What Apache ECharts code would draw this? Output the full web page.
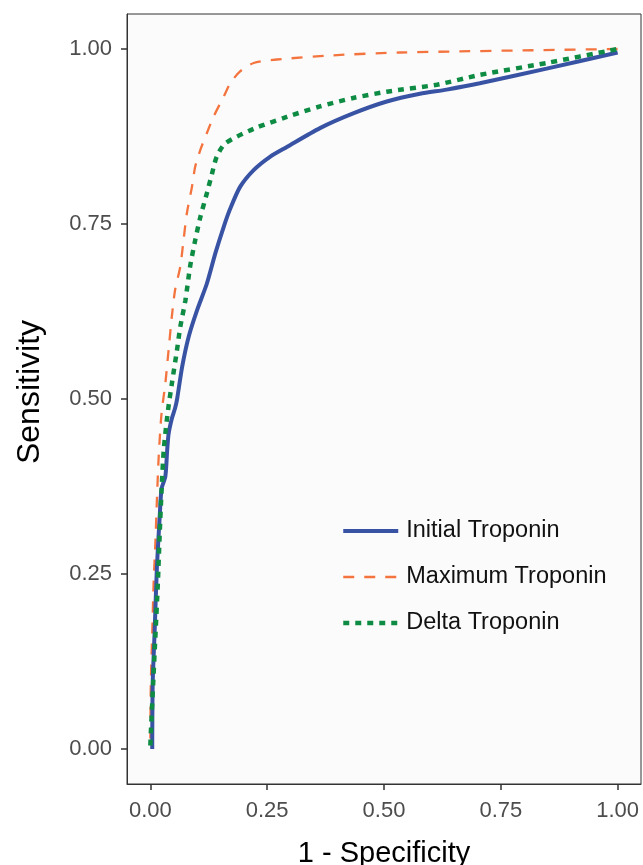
<!DOCTYPE html>
<html>
<head>
<meta charset="utf-8">
<script src="https://cdn.jsdelivr.net/npm/echarts@6/dist/echarts.min.js"></script>
<style>
html,body{margin:0;padding:0;background:#fff;}
#chart{width:643px;height:865px;}
</style>
</head>
<body>
<div id="chart"></div>
<script>
// Series names
var seriesNames = ['Initial Troponin', 'Maximum Troponin', 'Delta Troponin'];

// Initial Troponin ROC (1 - specificity, sensitivity)
var initialFPR = [0.004,0.005,0.009,0.014,0.020,0.024,0.032,0.036,0.039,0.046,0.053,0.057,0.068,0.082,0.100,0.121,0.139,0.157,0.171,0.192,0.221,0.256,0.292,0.363,0.434,0.506,0.577,0.634,0.705,0.848,1.000];
var initialTPR = [0.000,0.094,0.165,0.260,0.332,0.372,0.389,0.427,0.450,0.472,0.487,0.499,0.546,0.589,0.627,0.665,0.708,0.746,0.772,0.803,0.827,0.846,0.860,0.887,0.908,0.925,0.936,0.942,0.951,0.972,0.995];

// Maximum Troponin ROC
var maximumFPR = [0.000,0.001,0.004,0.007,0.011,0.014,0.018,0.024,0.032,0.039,0.046,0.053,0.064,0.071,0.078,0.089,0.096,0.107,0.121,0.135,0.157,0.171,0.192,0.221,0.271,0.392,0.534,1.000];
var maximumTPR = [0.015,0.094,0.165,0.237,0.299,0.356,0.420,0.480,0.522,0.570,0.618,0.656,0.689,0.727,0.765,0.803,0.832,0.856,0.880,0.903,0.932,0.951,0.968,0.980,0.985,0.991,0.995,1.000];

// Delta Troponin ROC
var deltaFPR = [0.000,0.001,0.006,0.011,0.016,0.020,0.024,0.029,0.038,0.046,0.057,0.064,0.075,0.085,0.096,0.107,0.121,0.132,0.142,0.160,0.221,0.292,0.363,0.434,0.506,0.613,0.705,0.848,1.000];
var deltaTPR = [0.005,0.023,0.094,0.165,0.237,0.308,0.370,0.430,0.485,0.522,0.570,0.603,0.641,0.689,0.727,0.760,0.794,0.822,0.846,0.865,0.886,0.903,0.918,0.930,0.939,0.949,0.963,0.980,1.000];

// Tick values
var tickValues = [0, 0.25, 0.5, 0.75, 1];

var colors = ['#3953a4', '#f3743f', '#0e8c44'];
var widths = [4, 2.3, 4.5];
var dashes = ['solid', [11, 10], [6, 6]];

function pairs(xs, ys) {
  var out = [];
  for (var i = 0; i < xs.length; i++) out.push([xs[i], ys[i]]);
  return out;
}

var chart = echarts.init(document.getElementById('chart'), null, {renderer: 'canvas'});
var FONT = '"Liberation Sans", Arial, sans-serif';

var axisCommon = function (name, nameGap, isY) {
  return {
    type: 'value',
    min: -0.05,
    max: 1.05,
    name: name,
    nameLocation: 'middle',
    nameGap: nameGap,
    nameTextStyle: isY
      ? {color: '#000', fontSize: 32, fontFamily: FONT, padding: [0, 0, 0, 14]}
      : {color: '#000', fontSize: 29, fontFamily: FONT},
    splitLine: {show: false},
    axisLine: {show: true, onZero: false, lineStyle: {color: '#333', width: 1}},
    axisTick: {show: true, customValues: tickValues, length: 6, lineStyle: {color: '#333', width: 1.5}},
    axisLabel: {
      show: true,
      customValues: tickValues,
      margin: isY ? 15 : 16,
      color: '#4d4d4d',
      fontSize: 22,
      fontFamily: FONT,
      formatter: function (v) { return v.toFixed(2); }
    }
  };
};

var seriesData = [
  pairs(initialFPR, initialTPR),
  pairs(maximumFPR, maximumTPR),
  pairs(deltaFPR, deltaTPR)
];

var option = {
  animation: false,
  backgroundColor: '#ffffff',
  grid: {
    left: 127, right: 2, top: 14, bottom: 81,
    outerBoundsMode: 'none',
    containLabel: false,
    show: true,
    backgroundColor: '#fcfbfb',
    borderColor: '#333',
    borderWidth: 1
  },
  xAxis: axisCommon('1 - Specificity', 55, false),
  yAxis: axisCommon('Sensitivity', 81, true),
  legend: {
    orient: 'vertical',
    left: 341,
    top: 519,
    itemWidth: 55,
    itemHeight: 6,
    itemGap: 22,
    padding: 0,
    itemStyle: {opacity: 0, color: 'transparent', borderWidth: 0},
    textStyle: {color: '#111', fontSize: 23.5, fontFamily: FONT, padding: [0, 0, 0, 3]},
    data: seriesNames.map(function (n, i) {
      return {name: n, lineStyle: {width: widths[i], color: colors[i], type: dashes[i]}};
    })
  },
  series: seriesNames.map(function (n, i) {
    return {
      name: n,
      type: 'line',
      data: seriesData[i],
      showSymbol: false,
      symbol: 'none',
      smooth: 0.25,
      lineStyle: {color: colors[i], width: widths[i], type: dashes[i]},
      itemStyle: {color: colors[i]},
      z: [3, 2, 4][i]
    };
  })
};
chart.setOption(option);
</script>
</body>
</html>
